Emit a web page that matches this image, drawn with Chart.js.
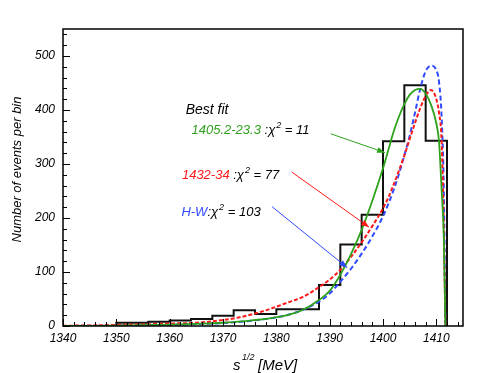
<!DOCTYPE html>
<html>
<head>
<meta charset="utf-8">
<script src="https://cdn.jsdelivr.net/npm/chart.js@4.4.1/dist/chart.umd.min.js"></script>
<style>
	html, body { margin: 0; padding: 0; background: #fff; }
	#wrap { width: 490px; height: 373px; }
</style>
</head>
<body>
<div id="wrap"><canvas id="Spectrum" width="490" height="373"></canvas></div>
<script>
// histogram: bin edges and counts per bin
const histEdges = [1350, 1356, 1360, 1364, 1368, 1372, 1376, 1380, 1388, 1392, 1396, 1400, 1404, 1408, 1412];
const histCounts = [6, 8, 10, 13, 19, 29, 22, 31, 76, 151, 206, 342, 446, 343];

// fitted line shapes, sampled at fitX
const fitX = [1340, 1345, 1350, 1355, 1360, 1365, 1370, 1374, 1378, 1382, 1385, 1388, 1390, 1392, 1394, 1396, 1398, 1400, 1401, 1402, 1403, 1404, 1405, 1406, 1407, 1408, 1409, 1410, 1410.5, 1411, 1411.4, 1411.7];
const greenFit = [0.2, 0.4, 0.8, 1.5, 2.5, 4, 6, 9, 13, 20, 30, 48, 65, 95, 133, 178, 232, 292, 326, 360, 388, 411, 428, 437, 439, 430, 410, 375, 342, 250, 165, 0];
const redFit = [0.5, 1, 2, 3, 4.5, 6, 11, 18, 29, 43, 54, 72, 86, 104, 128, 155, 185, 218, 238, 262, 288, 316, 346, 376, 404, 426, 437, 420, 395, 340, 180, 0];
const blueFit = [0.1, 0.3, 0.7, 1.3, 2.2, 3.5, 5.5, 8.5, 13, 20, 30, 45, 60, 82, 106, 134, 166, 203, 226, 252, 282, 316, 352, 395, 440, 472, 482, 474, 452, 385, 250, 0];

const xTicks = [1340, 1350, 1360, 1370, 1380, 1390, 1400, 1410];
const yTicks = [0, 100, 200, 300, 400, 500];

// legend entries
const fitNames = ['1405.2-23.3', '1432-34', 'H-W'];
const fitChi2 = ['11', '77', '103'];

const GREEN = '#2ea11c';
const RED = '#ff1a1a';
const BLUE = '#2f4bff';
const FONT = "'Liberation Sans', Arial, sans-serif";

// where notes sit, in data units
const notePos = [[1364.1, 355], [1362.3, 272], [1362.2, 204]];
const noteSep = [' :', ' :', ':'];
const arrows = [
	{color: GREEN, from: [1390.2, 356], to: [1400.4, 321]},
	{color: RED, from: [1382.9, 285], to: [1397.4, 183]},
	{color: BLUE, from: [1379.2, 221], to: [1393.3, 108]}
];

function histPoints() {
	let pts = [{x: histEdges[0], y: 0}];
	for (let i = 0; i < histCounts.length; i++) {
		pts.push({x: histEdges[i], y: histCounts[i]});
	}
	pts.push({x: histEdges[histEdges.length - 1], y: 0});
	return pts;
}

function fitPoints(ys) {
	return fitX.map((x, i) => ({x: x, y: ys[i]}));
}

function drawArrow(ctx, x1, y1, x2, y2, color) {
	ctx.strokeStyle = color;
	ctx.fillStyle = color;
	ctx.lineWidth = 1;
	ctx.beginPath();
	ctx.moveTo(x1, y1);
	ctx.lineTo(x2, y2);
	ctx.stroke();
	const a = Math.atan2(y2 - y1, x2 - x1);
	const len = 8, half = 3;
	ctx.beginPath();
	ctx.moveTo(x2, y2);
	ctx.lineTo(x2 - len * Math.cos(a) + half * Math.sin(a), y2 - len * Math.sin(a) - half * Math.cos(a));
	ctx.lineTo(x2 - len * Math.cos(a) - half * Math.sin(a), y2 - len * Math.sin(a) + half * Math.cos(a));
	ctx.closePath();
	ctx.fill();
}

// label like "1432-34 :χ² = 77"
function drawNote(ctx, x, y, name, color, sep, chi) {
	ctx.textBaseline = 'alphabetic';
	ctx.textAlign = 'left';
	ctx.font = 'italic 13px ' + FONT;
	ctx.fillStyle = color;
	ctx.fillText(name, x, y);
	x += ctx.measureText(name).width;
	ctx.fillStyle = '#000';
	let t = sep + 'χ';
	ctx.fillText(t, x, y);
	x += ctx.measureText(t).width + 1;
	ctx.font = 'italic 9px ' + FONT;
	ctx.fillText('2', x, y - 6);
	x += ctx.measureText('2').width;
	ctx.font = 'italic 13px ' + FONT;
	ctx.fillText(' = ' + chi, x, y);
}

const decorations = {
	id: 'decorations',
	afterDatasetsDraw(chart) {
		const ctx = chart.ctx;
		const area = chart.chartArea;
		const xs = chart.scales.x;
		const ys = chart.scales.y;
		ctx.save();

		// frame
		ctx.strokeStyle = '#000';
		ctx.lineWidth = 1.5;
		ctx.strokeRect(area.left, area.top, area.right - area.left, area.bottom - area.top);

		// inward ticks
		ctx.lineWidth = 1;
		ctx.beginPath();
		for (let v = xs.min; v <= xs.max; v += 2) {
			const px = Math.round(xs.getPixelForValue(v)) + 0.5;
			const len = (v % 10 === 0) ? 7 : 4;
			ctx.moveTo(px, area.bottom);
			ctx.lineTo(px, area.bottom - len);
		}
		for (let v = 0; v <= ys.max; v += 20) {
			const py = Math.round(ys.getPixelForValue(v)) + 0.5;
			const len = (v % 100 === 0) ? 7 : 4;
			ctx.moveTo(area.left, py);
			ctx.lineTo(area.left + len, py);
		}
		ctx.stroke();

		// arrows
		for (const a of arrows) {
			drawArrow(ctx, xs.getPixelForValue(a.from[0]), ys.getPixelForValue(a.from[1]),
				xs.getPixelForValue(a.to[0]), ys.getPixelForValue(a.to[1]), a.color);
		}

		// notes
		ctx.fillStyle = '#000';
		ctx.font = 'italic 14px ' + FONT;
		ctx.textAlign = 'left';
		ctx.fillText('Best fit', xs.getPixelForValue(1363), ys.getPixelForValue(393));
		const colors = [GREEN, RED, BLUE];
		for (let i = 0; i < fitNames.length; i++) {
			drawNote(ctx, xs.getPixelForValue(notePos[i][0]), ys.getPixelForValue(notePos[i][1]),
				fitNames[i], colors[i], noteSep[i], fitChi2[i]);
		}

		// axis titles
		ctx.fillStyle = '#000';
		ctx.font = 'italic 15px ' + FONT;
		const cx = (area.left + area.right) / 2;
		const by = 370;
		ctx.textAlign = 'left';
		ctx.fillText('s', cx - 30, by);
		ctx.font = 'italic 9px ' + FONT;
		ctx.fillText('1/2', cx - 21, by - 10);
		ctx.font = 'italic 15px ' + FONT;
		ctx.fillText('[MeV]', cx - 5, by);

		ctx.translate(17, (area.top + area.bottom) / 2 - 8);
		ctx.rotate(-Math.PI / 2);
		ctx.textAlign = 'center';
		ctx.textBaseline = 'middle';
		ctx.font = 'italic 13px ' + FONT;
		ctx.fillText('Number of events per bin', 0, 0);
		ctx.restore();
	}
};

const spectrumCtx = document.getElementById('Spectrum').getContext('2d');

window.spectrum = new Chart(spectrumCtx, {
	type: 'line',
	data: {
		datasets: [{
			label: '1405.2-23.3',
			borderColor: GREEN,
			borderWidth: 1.8,
			cubicInterpolationMode: 'monotone',
			pointRadius: 0,
			data: fitPoints(greenFit)
		}, {
			label: '1432-34',
			borderColor: RED,
			borderWidth: 2,
			borderDash: [4, 2],
			cubicInterpolationMode: 'monotone',
			pointRadius: 0,
			data: fitPoints(redFit)
		}, {
			label: 'H-W',
			borderColor: BLUE,
			borderWidth: 2,
			borderDash: [5, 3],
			cubicInterpolationMode: 'monotone',
			pointRadius: 0,
			data: fitPoints(blueFit)
		}, {
			label: 'data',
			borderColor: '#111',
			borderWidth: 2,
			stepped: 'before',
			pointRadius: 0,
			data: histPoints()
		}]
	},
	options: {
		responsive: false,
		animation: false,
		devicePixelRatio: 1,
		layout: {
			padding: {left: 0, top: 29, right: 27, bottom: 0}
		},
		plugins: {
			legend: {display: false},
			tooltip: {enabled: false}
		},
		scales: {
			x: {
				type: 'linear',
				min: 1340,
				max: 1415,
				grid: {display: false, drawTicks: false},
				border: {display: false},
				afterBuildTicks: (scale) => { scale.ticks = xTicks.map(v => ({value: v})); },
				afterFit: (scale) => { scale.height = 47; },
				ticks: {
					color: '#000',
					padding: 5,
					maxRotation: 0,
					callback: (v) => String(v),
					font: {family: FONT, size: 12, style: 'italic'}
				}
			},
			y: {
				type: 'linear',
				min: 0,
				max: 550,
				grid: {display: false, drawTicks: false},
				border: {display: false},
				afterBuildTicks: (scale) => { scale.ticks = yTicks.map(v => ({value: v})); },
				afterFit: (scale) => { scale.width = 63; },
				ticks: {
					color: '#000',
					padding: 8,
					callback: (v) => String(v),
					font: {family: FONT, size: 12, style: 'italic'}
				}
			}
		}
	},
	plugins: [decorations]
});
</script>
</body>
</html>
